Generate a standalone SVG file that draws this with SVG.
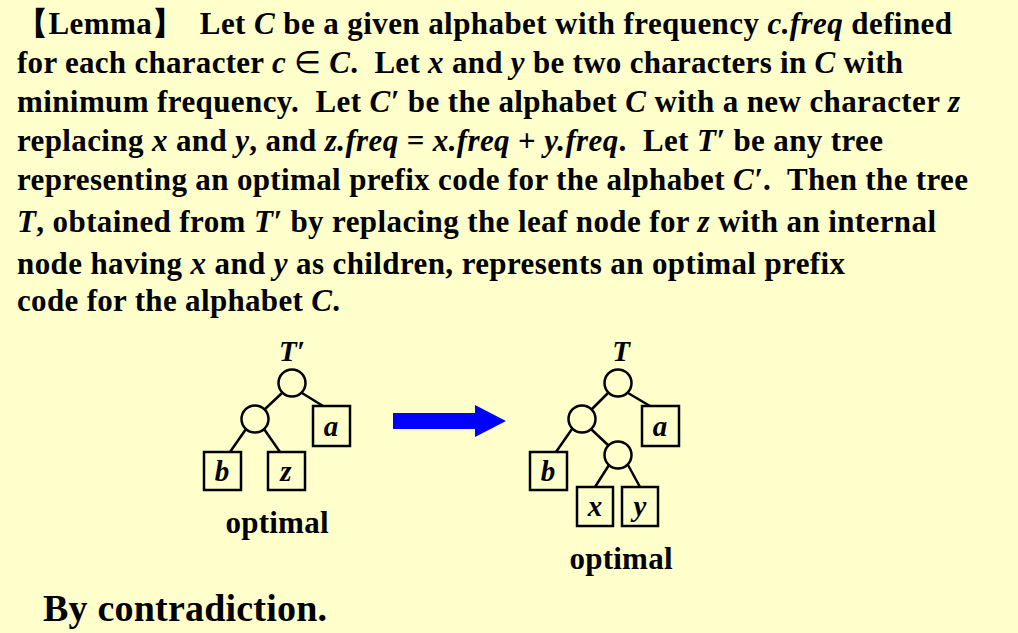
<svg xmlns="http://www.w3.org/2000/svg" width="1018" height="633" viewBox="0 0 1018 633">
<style>
text{font-family:"Liberation Serif",serif;font-weight:bold;font-size:31px;fill:#000;white-space:pre}
.n{fill:none;stroke:#000;stroke-width:2.5}
.l{font-style:italic;text-anchor:middle;font-size:29px}
</style>
<rect width="1018" height="633" fill="#FFFFCC"/>
<text x="17" y="34" textLength="935" lengthAdjust="spacing">【Lemma】  Let <tspan font-style="italic">C</tspan> be a given alphabet with frequency <tspan font-style="italic">c.freq</tspan> defined</text>
<text x="17" y="73" textLength="886" lengthAdjust="spacing">for each character <tspan font-style="italic">c</tspan> <tspan font-weight="normal">∈</tspan> <tspan font-style="italic">C</tspan>.  Let <tspan font-style="italic">x</tspan> and <tspan font-style="italic">y</tspan> be two characters in <tspan font-style="italic">C</tspan> with</text>
<text x="17" y="112" textLength="943" lengthAdjust="spacing">minimum frequency.  Let <tspan font-style="italic">C′</tspan> be the alphabet <tspan font-style="italic">C</tspan> with a new character <tspan font-style="italic">z</tspan></text>
<text x="17" y="151" textLength="866" lengthAdjust="spacing">replacing <tspan font-style="italic">x</tspan> and <tspan font-style="italic">y</tspan>, and <tspan font-style="italic">z.freq</tspan> = <tspan font-style="italic">x.freq</tspan> + <tspan font-style="italic">y.freq</tspan>.  Let <tspan font-style="italic">T′</tspan> be any tree</text>
<text x="17" y="190" textLength="951" lengthAdjust="spacing">representing an optimal prefix code for the alphabet <tspan font-style="italic">C′</tspan>.  Then the tree</text>
<text x="17" y="232" textLength="919" lengthAdjust="spacing"><tspan font-style="italic">T</tspan>, obtained from <tspan font-style="italic">T′</tspan> by replacing the leaf node for <tspan font-style="italic">z</tspan> with an internal</text>
<text x="17" y="274" textLength="828" lengthAdjust="spacing">node having <tspan font-style="italic">x</tspan> and <tspan font-style="italic">y</tspan> as children, represents an optimal prefix</text>
<text x="17" y="311" textLength="323" lengthAdjust="spacing">code for the alphabet <tspan font-style="italic">C</tspan>.</text>
<g id="connectors" stroke="#000" stroke-width="2.5">
<line x1="282" y1="393" x2="264" y2="410"/><line x1="302" y1="393" x2="323" y2="406"/>
<line x1="246" y1="429" x2="230" y2="452"/><line x1="264" y1="429" x2="280" y2="452"/>
<line x1="608" y1="393" x2="591" y2="410"/><line x1="628" y1="393" x2="650" y2="406"/>
<line x1="572" y1="429" x2="556" y2="452"/><line x1="591" y1="429" x2="609" y2="446"/>
<line x1="609" y1="465" x2="595" y2="487"/><line x1="628" y1="465" x2="640" y2="487"/>
</g>
<g id="Tp">
<text class="l" x="292" y="361">T′</text>
<circle id="r1" class="n" cx="292" cy="383" r="13.5"/>
<circle class="n" cx="255" cy="419" r="13.5"/>
<g id="a1"><rect class="n" x="313" y="406" width="37" height="40"/><text class="l" x="331" y="436">a</text></g>
<g id="b1"><rect class="n" x="204" y="452" width="37" height="38"/><text class="l" x="222" y="481">b</text></g>
<g id="z1"><rect class="n" x="268" y="452" width="37" height="38"/><text class="l" x="286" y="481">z</text></g>
<text x="277" y="533" text-anchor="middle" textLength="103" lengthAdjust="spacing">optimal</text>
</g>
<g id="arrow"><polygon points="393,413 475,413 475,405 506,421 475,437 475,429 393,429" fill="#0000FF"/></g>
<g id="T">
<text class="l" x="621" y="361">T</text>
<circle class="n" cx="618" cy="383" r="13.5"/>
<circle class="n" cx="582" cy="419" r="13.5"/>
<circle class="n" cx="618" cy="455" r="13.5"/>
<g id="a2"><rect class="n" x="642" y="406" width="37" height="40"/><text class="l" x="660" y="436">a</text></g>
<g id="b2"><rect class="n" x="530" y="452" width="37" height="38"/><text class="l" x="548" y="481">b</text></g>
<g id="x2"><rect class="n" x="577" y="487" width="36" height="39"/><text class="l" x="595" y="516">x</text></g>
<g id="y2"><rect class="n" x="622" y="487" width="36" height="39"/><text class="l" x="640" y="516">y</text></g>
<text x="621" y="569" text-anchor="middle" textLength="103" lengthAdjust="spacing">optimal</text>
</g>
<text x="43" y="621" style="font-size:38px" textLength="284" lengthAdjust="spacing">By contradiction.</text>
</svg>
